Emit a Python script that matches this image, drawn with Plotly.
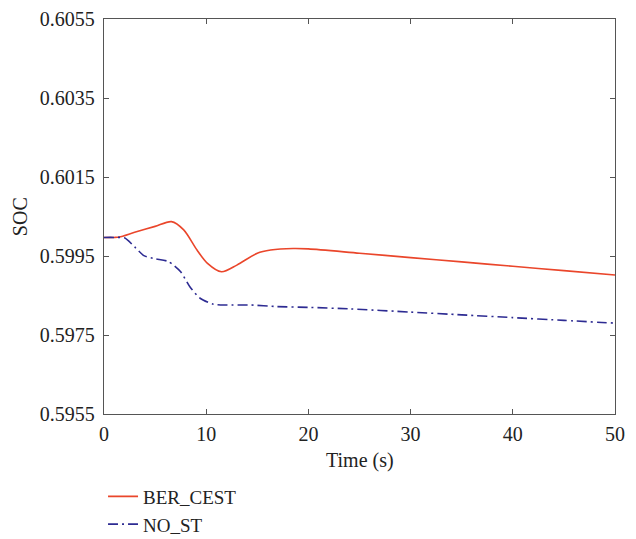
import plotly.graph_objects as go

# Time samples (s) and state-of-charge values for each strategy
t_ber = [0, 1, 1.5, 3, 5, 6.6, 7.8, 9.1, 10.1, 11.5, 13.0, 15.0, 16.3, 18.5, 20, 25, 30, 35, 40, 45, 50]
soc_ber = [0.59997, 0.59997, 0.59998, 0.60010, 0.60025, 0.60037, 0.60016, 0.59965, 0.59932,
           0.59910, 0.59927, 0.59957, 0.59965, 0.59969, 0.59968, 0.59957, 0.59946, 0.59935,
           0.59924, 0.59913, 0.59902]

t_nost = [0, 1, 2.0, 3.0, 3.9, 5, 6.3, 7.5, 8.4, 9.4, 10.7, 12, 14.3, 16.9, 20, 24.1, 30, 35, 40, 45, 50]
soc_nost = [0.59997, 0.59997, 0.59996, 0.59973, 0.59951, 0.59943, 0.59936, 0.59910, 0.59872,
            0.59843, 0.59828, 0.59826, 0.59826, 0.59822, 0.59820, 0.59816, 0.59808, 0.59801,
            0.59794, 0.59787, 0.59780]

y_ticks = [0.5955, 0.5975, 0.5995, 0.6015, 0.6035, 0.6055]
x_ticks = [0, 10, 20, 30, 40, 50]

FONT = "Liberation Serif"
AXIS_COLOR = "#555555"
TEXT_COLOR = "#222222"

fig = go.Figure()
fig.add_trace(go.Scatter(
    x=t_ber, y=soc_ber, mode="lines", name="BER_CEST",
    line=dict(color="#EA462B", width=1.6, shape="spline", smoothing=0.8),
))
fig.add_trace(go.Scatter(
    x=t_nost, y=soc_nost, mode="lines", name="NO_ST",
    line=dict(color="#2D2B92", width=1.6, dash="10px,4px,2px,4px", shape="spline", smoothing=0.6),
))

axis_common = dict(
    showgrid=False, zeroline=False, showline=True, linecolor=AXIS_COLOR, linewidth=1.3,
    mirror="ticks", ticks="inside", ticklen=5, tickcolor=AXIS_COLOR, tickwidth=1.2,
    tickfont=dict(family=FONT, size=20, color=TEXT_COLOR), automargin=False,
)

fig.update_xaxes(range=[0, 50], tickvals=x_ticks, ticklabelstandoff=2, **axis_common)
fig.update_yaxes(
    range=[0.5955, 0.6055], tickvals=y_ticks, tickformat=".4f", ticklabelstandoff=4,
    **axis_common,
)

# Axis titles
fig.add_annotation(
    text="SOC", xref="paper", yref="paper", x=-0.165, y=0.5,
    xanchor="center", yanchor="middle", textangle=-90, showarrow=False,
    font=dict(family=FONT, size=20, color=TEXT_COLOR),
)
fig.add_annotation(
    text="Time (s)", xref="paper", yref="paper", x=0.5, y=-0.118,
    xanchor="center", yanchor="middle", showarrow=False,
    font=dict(family=FONT, size=20, color=TEXT_COLOR),
)

fig.update_layout(
    width=636, height=539,
    margin=dict(l=104, r=21, t=19, b=125, autoexpand=False),
    plot_bgcolor="white", paper_bgcolor="white",
    showlegend=True,
    legend=dict(
        xref="container", yref="container",
        x=0.162, y=0.114, xanchor="left", yanchor="top",
        orientation="v", bgcolor="rgba(0,0,0,0)",
        font=dict(family=FONT, size=19, color=TEXT_COLOR),
        itemwidth=30, tracegroupgap=0,
    ),
)

fig.write_html("out.html")
